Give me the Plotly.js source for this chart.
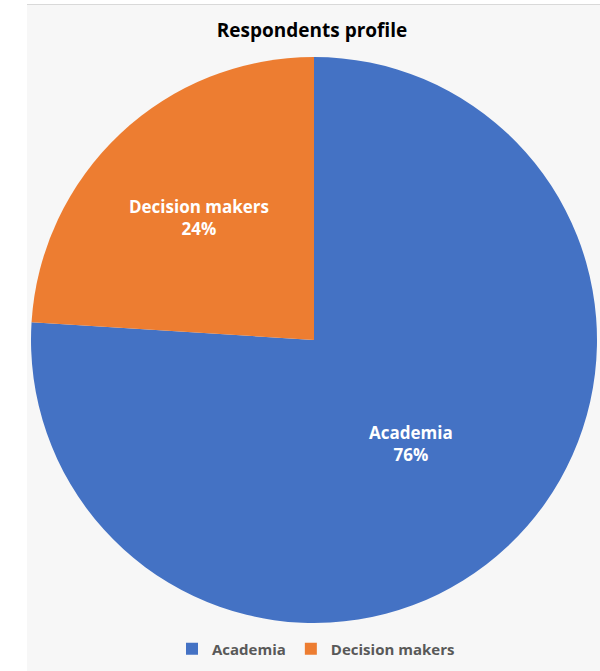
<!DOCTYPE html>
<html>
<head>
<meta charset="utf-8">
<script src="https://cdn.plot.ly/plotly-3.0.1.min.js"></script>
<style>html,body{margin:0;padding:0;background:#fff;}#chart{width:600px;height:671px;}</style>
</head>
<body>
<div id="chart"></div>
<script>
const categories = ["Academia", "Decision makers"];
const shares = [76, 24];
const sliceColors = ["#4472C4", "#ED7D31"];

const W = 600, H = 671;
const m = {l: 31, r: 3, t: 57, b: 48};
const pw = W - m.l - m.r, ph = H - m.t - m.b;
const px = v => (v - m.l) / pw;
const py = v => (H - m.b - v) / ph;

const trace = {
  type: "pie",
  labels: categories,
  values: shares,
  marker: {colors: sliceColors, line: {width: 0}},
  sort: false,
  direction: "clockwise",
  rotation: 0,
  texttemplate: "<b>%{label}</b><br><b>%{percent}</b>",
  textposition: "inside",
  insidetextorientation: "horizontal",
  textfont: {family: "Open Sans, sans-serif", size: 17, color: "#ffffff"},
  hoverinfo: "label+percent"
};

const layout = {
  width: W, height: H,
  margin: m,
  paper_bgcolor: "#ffffff",
  plot_bgcolor: "rgba(0,0,0,0)",
  title: {
    text: "<b>Respondents profile</b>",
    font: {family: "Open Sans, sans-serif", size: 19, color: "#000000"},
    x: 0.52, xanchor: "center", y: 1 - 30 / H, yanchor: "middle"
  },
  showlegend: true,
  legend: {
    orientation: "h",
    x: px(316), xanchor: "center",
    y: py(649), yanchor: "middle",
    bgcolor: "rgba(0,0,0,0)",
    font: {family: "Open Sans, sans-serif", size: 15, color: "#595959", weight: "bold"},
    itemwidth: 30,
    traceorder: "normal"
  },
  shapes: [
    {type: "rect", xref: "paper", yref: "paper", layer: "below",
     x0: px(27), x1: px(600), y0: py(671), y1: py(4),
     fillcolor: "#f7f7f7", line: {width: 0}},
    {type: "line", xref: "paper", yref: "paper", layer: "below",
     x0: px(27), x1: px(600), y0: py(4.5), y1: py(4.5),
     line: {color: "#d9d9d9", width: 1}}
  ]
};

Plotly.newPlot("chart", [trace], layout, {displayModeBar: false, staticPlot: true});
</script>
</body>
</html>
